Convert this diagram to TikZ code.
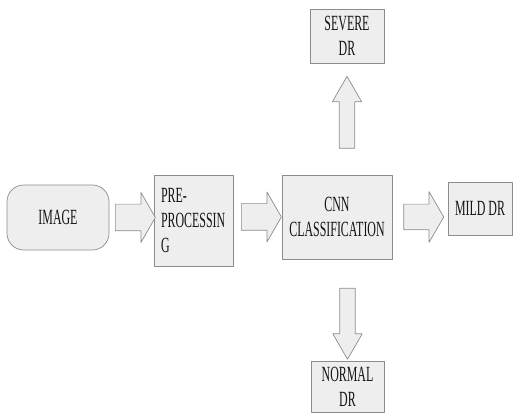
\documentclass[tikz,border=0pt]{standalone}
\usepackage{fontspec}
\setmainfont[FakeStretch=0.55]{Liberation Serif}
\usetikzlibrary{calc,shapes.arrows}
\definecolor{boxfill}{HTML}{EEEEEE}
\definecolor{boxline}{HTML}{8C8C8C}
\definecolor{inkgray}{HTML}{141414}
\begin{document}
\begin{tikzpicture}[line join=round,font=\fontsize{18.5}{21.3}\selectfont,
	box/.style={draw=boxline,fill=boxfill,text=inkgray,line width=0.6pt,inner sep=0pt,align=center},
	harrow/.style={single arrow,draw=boxline,fill=boxfill,line width=0.6pt,inner xsep=0pt,inner ysep=0.39cm,
		single arrow head extend=0.35cm,single arrow tip angle=120,minimum height=1.2cm},
	varrow/.style={single arrow,draw=boxline,fill=boxfill,line width=0.6pt,inner ysep=0pt,inner xsep=0.22cm,
		single arrow head extend=0.21cm,single arrow tip angle=60}]
	\useasboundingbox (0,0) rectangle (15.39,12.39);
	% blocks
	\node[box,rounded corners=0.5cm,minimum width=3.06cm,minimum height=1.95cm] (img) at (1.74,5.865) {IMAGE};
	\node[box,align=left,text width=1.95cm,inner xsep=0.21cm,minimum height=2.73cm] (pre) at (5.805,5.775) {PRE-\\PROCESSIN\\G};
	\node[box,minimum width=3.3cm,minimum height=2.52cm] (cnn) at (10.11,5.88) {CNN\\CLASSIFICATION};
	\node[box,minimum width=1.92cm,minimum height=1.59cm] (mild) at (14.4,6.135) {MILD DR};
	\node[box,minimum width=2.22cm,minimum height=1.62cm] (severe) at (10.41,11.31) {SEVERE\\DR};
	\node[box,minimum width=2.19cm,minimum height=1.53cm] (normal) at (10.425,0.795) {NORMAL\\DR};
	% block arrows
	\node[harrow] (a1) at ($(img.east)!.5!(img.east -| pre.west)$) {};
	\node[harrow] (a2) at ($(cnn.west)!.5!(cnn.west -| pre.east)$) {};
	\node[harrow,inner ysep=0.375cm,single arrow head extend=0.375cm] (a3) at ($(cnn.east)!.5!(cnn.east -| mild.west)$) {};
	\node[varrow,minimum height=2.16cm,shape border rotate=90] (up) at ($(severe.south)!.5!(severe.south |- cnn.north)$) {};
	\node[varrow,minimum height=2.13cm,shape border rotate=270] (down) at ($(normal.north |- cnn.south)!.57!(normal.north)$) {};
\end{tikzpicture}
\end{document}
